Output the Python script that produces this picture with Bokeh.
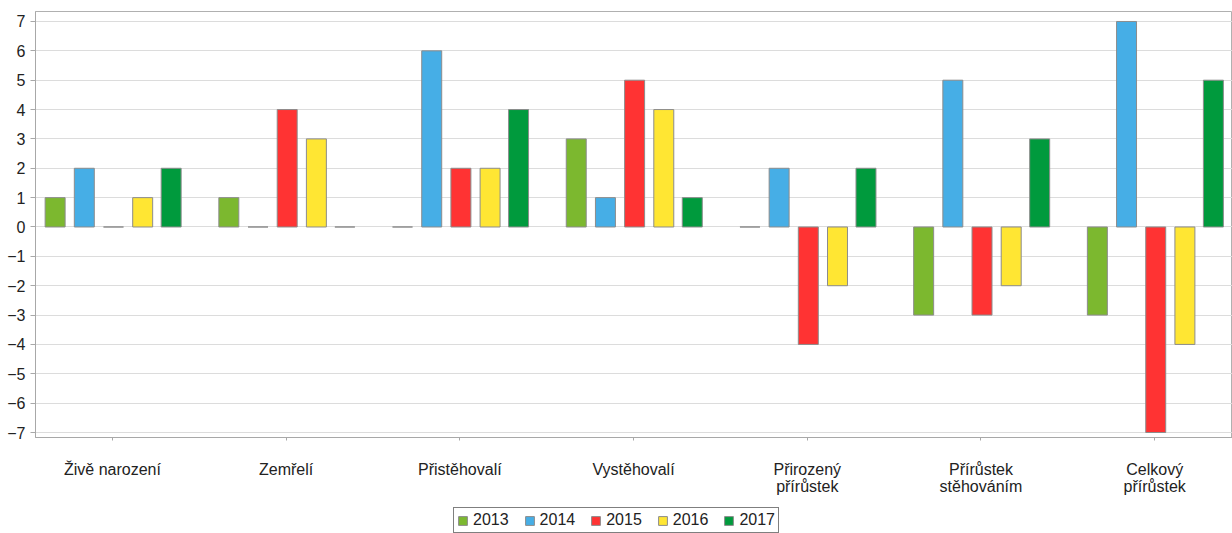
from bokeh.plotting import figure
from bokeh.models import FixedTicker, Range1d, Legend, ColumnDataSource
from bokeh.layouts import column
from bokeh.embed import file_html
from bokeh.resources import INLINE
from bokeh.transform import dodge

categories = ["Živě narození", "Zemřelí", "Přistěhovalí", "Vystěhovalí",
              "Přirozený\npřírůstek", "Přírůstek\nstěhováním", "Celkový\npřírůstek"]
years = ["2013", "2014", "2015", "2016", "2017"]
v2013 = [1, 1, 0, 3, 0, -3, -3]
v2014 = [2, 0, 6, 1, 2, 5, 7]
v2015 = [0, 4, 2, 5, -4, -3, -7]
v2016 = [1, 3, 2, 4, -2, -2, -4]
v2017 = [2, 0, 4, 1, 2, 3, 5]
colors = ["#7cb82f", "#46aee6", "#ff3333", "#ffe633", "#009a3d"]
series = [v2013, v2014, v2015, v2016, v2017]

x = list(range(len(categories)))
src = ColumnDataSource(dict(x=x, **{y: s for y, s in zip(years, series)}))

p = figure(width=1232, height=507,
           output_backend="svg", toolbar_location=None,
           x_range=Range1d(-0.443, 6.448), y_range=Range1d(-7.17, 7.34),
           min_border_left=35, min_border_right=0, min_border_top=11, min_border_bottom=70)

offsets = [-0.33, -0.162, 0.006, 0.174, 0.338]
for yr, off, c in zip(years, offsets, colors):
    p.vbar(x=dodge("x", off), top=yr, bottom=0, width=0.115, source=src,
           fill_color=c, line_color="#8c8c8c", line_width=1)

p.yaxis.ticker = FixedTicker(ticks=list(range(-7, 8)))
p.xaxis.ticker = FixedTicker(ticks=x)
p.xaxis.major_label_overrides = {i: c for i, c in enumerate(categories)}
for ax in (p.xaxis, p.yaxis):
    ax.axis_line_color = "#a8a8a8"
    ax.major_tick_line_color = "#a8a8a8"
    ax.minor_tick_line_color = None
    ax.major_label_text_font = "Liberation Sans"
    ax.major_label_text_font_size = "16px"
    ax.major_label_text_color = "#222222"
    ax.major_label_text_line_height = 1.0
    ax.major_tick_in = 0
p.yaxis.major_tick_out = 5
p.xaxis.major_tick_out = 3
p.xaxis.major_label_standoff = 20
p.yaxis.major_label_standoff = 5

p.xgrid.grid_line_color = None
p.ygrid.grid_line_color = "#dcdcdc"
p.outline_line_color = "#b0b0b0"
p.background_fill_color = "#ffffff"

# legend strip: same series renderers, kept out of this strip's visible range
p2 = figure(width=1232, height=26, output_backend="svg", toolbar_location=None,
            x_axis_type=None, y_axis_type=None, min_border=0,
            x_range=Range1d(100, 101), y_range=Range1d(100, 101))
p2.outline_line_color = None
p2.grid.visible = False
items = []
for yr, c in zip(years, colors):
    r = p2.vbar(x="x", top=yr, bottom=0, width=0.1, source=src,
                fill_color=c, line_color="#8c8c8c", line_width=1)
    items.append((yr, [r]))
legend = Legend(items=items, orientation="horizontal", location=(418, 0),
                border_line_color="#000000", border_line_width=1,
                label_text_font="Liberation Sans", label_text_font_size="16px",
                label_text_color="#222222", glyph_width=11, glyph_height=11,
                label_height=16, spacing=15, padding=3, margin=0, label_standoff=5,
                background_fill_alpha=1)
p2.add_layout(legend, "center")

layout = column(p, p2, spacing=0)
open("out.html", "w").write(file_html(layout, INLINE))
